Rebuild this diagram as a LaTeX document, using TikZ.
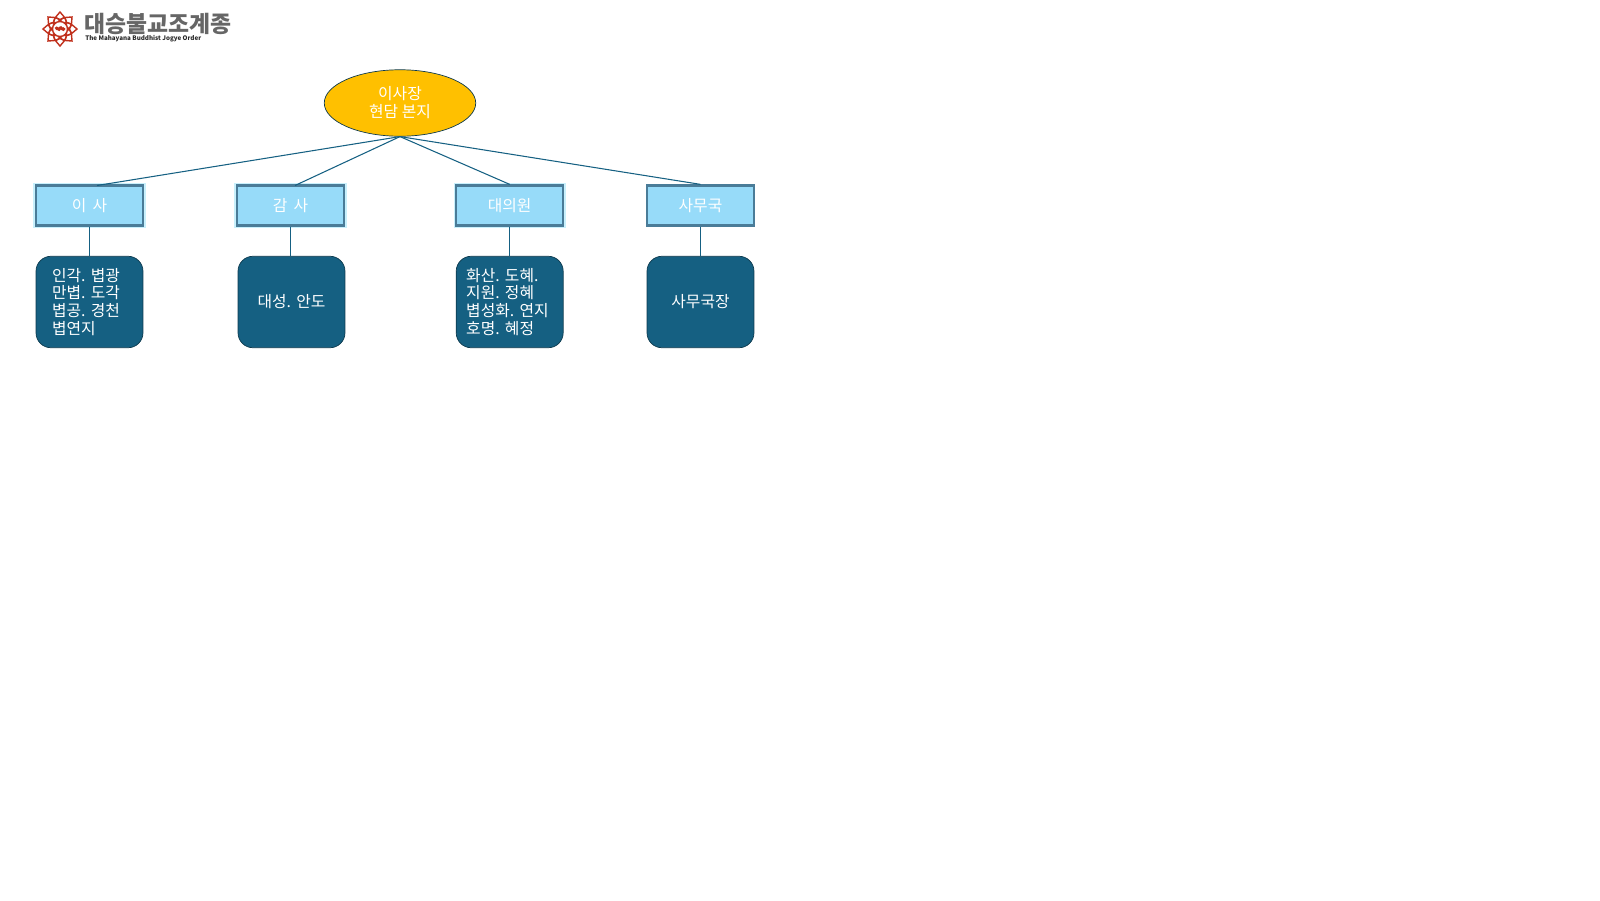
\documentclass[tikz,border=0pt]{standalone}
\usepackage{fontspec}
\setmainfont{Noto Sans CJK KR}
\usetikzlibrary{shapes.geometric}
\definecolor{lineblue}{HTML}{156082}
\definecolor{boxblue}{HTML}{97DBF9}
\definecolor{boxline}{HTML}{4A7C98}
\definecolor{glowblue}{HTML}{C8F0FC}
\definecolor{headgold}{HTML}{FFC000}
\definecolor{logored}{HTML}{C0301C}
\frenchspacing
\begin{document}
\begin{tikzpicture}[x=0.02cm, y=-0.02cm,
headnode/.style={ellipse, draw=lineblue!60!black, fill=headgold, text=white, minimum width=3.03cm, minimum height=1.33cm, inner sep=0pt, font=\fontsize{9pt}{10.2pt}\selectfont, align=center},
groupnode/.style={rectangle, draw=boxline, fill=boxblue, text=white, line width=1.3pt, minimum width=2.14cm, minimum height=0.8cm, inner sep=0pt, font=\fontsize{9pt}{10.2pt}\selectfont},
glownode/.style={groupnode, preaction={draw=glowblue, line width=3pt}},
membernode/.style={rectangle, rounded corners=0.3cm, draw=lineblue!60!black, fill=lineblue, text=white, minimum width=2.14cm, minimum height=1.83cm, inner ysep=0pt, inner xsep=0.32cm, text width=1.5cm, font=\fontsize{9pt}{10.2pt}\selectfont, align=left},
link/.style={draw=lineblue, line width=0.6pt}]
\useasboundingbox (0,0) rectangle (1600,900);

\node[headnode](chair) at (400, 103) {이사장\\현담 본지};

\node[glownode](board) at (89.5, 205.5) {이 \,사};
\node[glownode](audit) at (290.5, 205.5) {감 \,사};
\node[glownode](delegates) at (509.7, 205.5) {대의원};
\node[groupnode](office) at (700.5, 205.5) {사무국};

\node[membernode](boardNames) at (89.5, 302) {인각. 볍광\\만볍. 도각\\볍공. 경천\\볍연지};
\node[membernode, align=center](auditNames) at (291.5, 302) {대성. 안도};
\node[membernode, inner xsep=0.2cm, text width=1.74cm](delegateNames) at (509.7, 302) {화산. 도혜.\\지원. 정혜\\볍성화. 연지\\호명. 혜정};
\node[membernode, align=center](officeNames) at (700.5, 302) {사무국장};

\coordinate (boardTop) at (97, 185.5);
\coordinate (auditTop) at (295, 185.5);

\draw[link](chair.south) -- (boardTop);
\draw[link](chair.south) -- (auditTop);
\draw[link](chair.south) -- (delegates.north);
\draw[link](chair.south) -- (office.north);

\draw[link](board.south) -- (boardNames.north);
\draw[link](audit.south) -- (audit.south |- auditNames.north);
\draw[link](delegates.south) -- (delegateNames.north);
\draw[link](office.south) -- (officeNames.north);

%%%%%%%%%%%%%%%%%%%%%%%%%%%%%%%%%%%%%%%%%%%%%%%%%%%%%%%%%%%%%%%%%%%%%%%

\foreach \ang in {0,45,...,315}{
\draw[logored, line width=0.8pt, rotate around={\ang:(60,29)}] (53.5,22) .. controls (54.5,16.5) and (58,15.5) .. (60,12) .. controls (62,15.5) and (65.5,16.5) .. (66.5,22);
\draw[logored, line width=0.7pt, rotate around={\ang+22.5:(60,29)}] (55.5,22.5) .. controls (56.5,20) and (58,19) .. (60,16.5) .. controls (62,19) and (63.5,20) .. (64.5,22.5);
}
\draw[logored, line width=0.8pt] (60,29) circle (7.5);
\draw[logored, line width=1.6pt] (55.5,29) .. controls (57,26) and (59,32) .. (60,28) .. controls (61,26) and (63,32) .. (64.5,28);
\node[text=black!60, inner sep=0pt, anchor=west, font=\fontsize{13pt}{13pt}\selectfont\bfseries](logoName) at (84,24) {대승불교조계종};
\node[text=black!85, inner sep=0pt, anchor=west, font=\fontsize{3.55pt}{4pt}\selectfont\bfseries](logoOrder) at (85,38.5) {The Mahayana Buddhist Jogye Order};
\end{tikzpicture}
\end{document}
